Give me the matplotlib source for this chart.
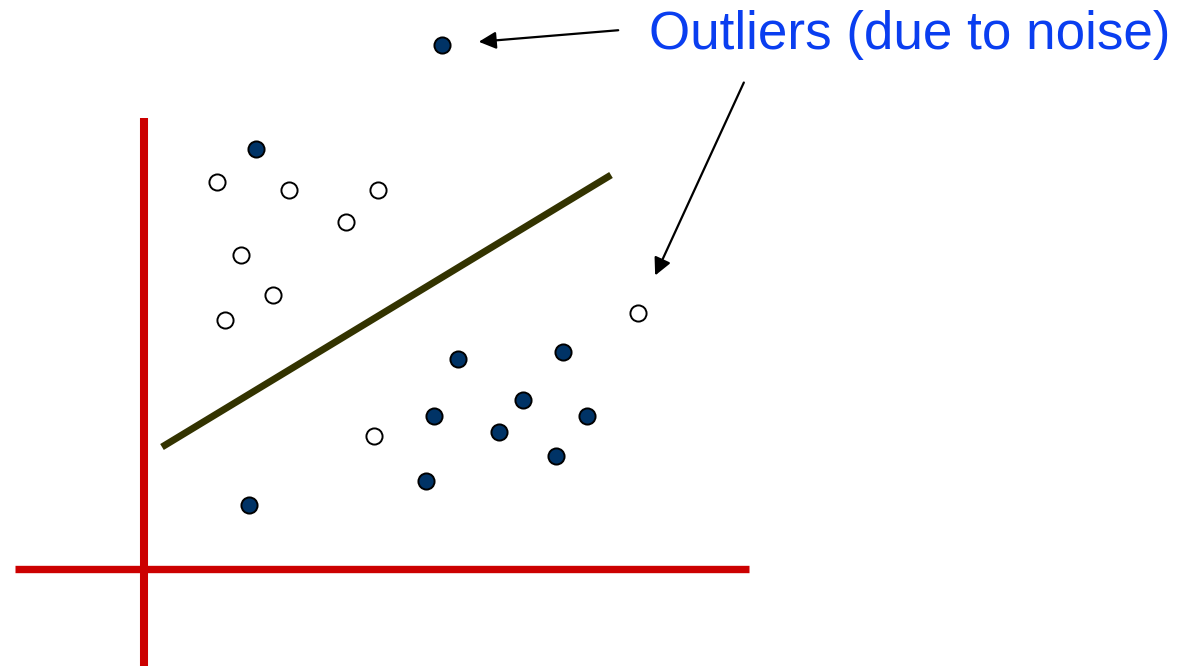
import matplotlib
matplotlib.use("Agg")
import matplotlib.pyplot as plt

# point positions (pixel space, y down)
filled_x = [442, 256, 458, 563, 523, 434, 499, 587, 556, 426, 249]
filled_y = [45, 149, 359, 352, 400, 416, 432, 416, 456, 481, 505]
open_x = [217, 289, 378, 346, 241, 273, 225, 374, 638]
open_y = [182, 190, 190, 222, 255, 295, 320, 436, 313]

# separating line and axes
sep_x = [162, 611]
sep_y = [447, 175]
label = "Outliers (due to noise)"

fig = plt.figure(figsize=(11.82, 6.66), dpi=100)
ax = fig.add_axes([0, 0, 1, 1])
ax.set_xlim(0, 1182)
ax.set_ylim(666, 0)
ax.axis("off")

# red axes
ax.plot([144, 144], [118, 666], color="#cc0000", lw=5.8, solid_capstyle="butt")
ax.plot([15, 749], [569, 569], color="#cc0000", lw=5.3, solid_capstyle="butt")

# decision line
ax.plot(sep_x, sep_y, color="#333300", lw=5, solid_capstyle="butt")

ax.scatter(open_x, open_y, s=135, facecolor="white", edgecolor="black", linewidth=1.4, zorder=3)
ax.scatter(filled_x, filled_y, s=135, facecolor="#003366", edgecolor="black", linewidth=1.4, zorder=3)

ax.text(649, 35, label, color="#0a3ef0", fontsize=38.2, family="Liberation Sans",
        va="center", ha="left")

arrow = dict(arrowstyle="-|>", color="black", lw=1.6, mutation_scale=26)
ax.annotate("", xy=(476, 42), xytext=(621, 30), arrowprops=arrow)
ax.annotate("", xy=(654, 278), xytext=(745, 80), arrowprops=arrow)

fig.savefig("out.png", dpi=100)
